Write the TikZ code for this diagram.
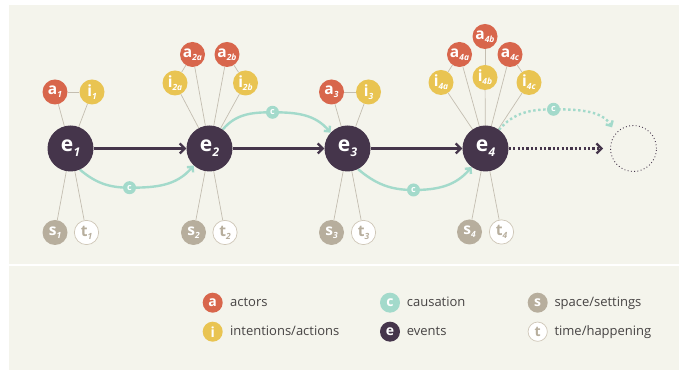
\documentclass[tikz,border=0pt]{standalone}
\usepackage{fontspec}
\setmainfont{Open Sans}
\usetikzlibrary{arrows.meta}

\definecolor{panelcream}{HTML}{F4F4EC}
\definecolor{actorred}{HTML}{D8664C}
\definecolor{intentyellow}{HTML}{E9C452}
\definecolor{causeteal}{HTML}{A3DACB}
\definecolor{eventdark}{HTML}{45354B}
\definecolor{spacetaupe}{HTML}{B7AE9D}
\definecolor{timeline}{HTML}{CFC7B8}
\definecolor{linkgray}{HTML}{C4BEB1}
\definecolor{keygray}{HTML}{464343}

\pgfdeclarelayer{back}
\pgfdeclarelayer{links}
\pgfsetlayers{back,links,main}

% labels with a small italic index
\newcommand{\evt}[1]{{\fontsize{21}{21}\selectfont\bfseries e\kern0.3pt\raisebox{-5pt}{\fontsize{12}{12}\selectfont\itshape #1}}}
\newcommand{\sml}[2]{{\fontsize{15.5}{15.5}\selectfont\bfseries #1\raisebox{-3pt}{\fontsize{8.5}{8.5}\selectfont\itshape #2}}}

\begin{document}
\begin{tikzpicture}[x=1pt,y=1pt]
	\tikzstyle{every node}+=[inner sep=0pt]
	\tikzstyle{eventnode}=[circle, fill=eventdark, minimum size=46pt, text=white]
	\tikzstyle{ghostnode}=[circle, draw=eventdark, line width=0.9pt, dash pattern=on 0.9pt off 2.4pt, minimum size=46pt]
	\tikzstyle{actornode}=[circle, fill=actorred, minimum size=25pt, text=white]
	\tikzstyle{intentnode}=[circle, fill=intentyellow, minimum size=25pt, text=white]
	\tikzstyle{spacenode}=[circle, fill=spacetaupe, minimum size=25pt, text=white]
	\tikzstyle{timenode}=[circle, fill=white, draw=timeline, line width=0.7pt, minimum size=24.3pt, text=spacetaupe]
	\tikzstyle{causenode}=[circle, fill=causeteal, minimum size=13pt, text=white, font=\fontsize{9}{9}\selectfont\bfseries]
	\tikzstyle{link}=[draw=linkgray, line width=0.7pt]
	\tikzstyle{flow}=[draw=eventdark, line width=2.2pt, -{Straight Barb[length=5pt,width=10pt]}]
	\tikzstyle{causearc}=[draw=causeteal, line width=2.4pt, -{Straight Barb[length=4pt,width=8pt]}]
	\tikzstyle{keydot}=[circle, minimum size=20pt, text=white, font=\fontsize{14}{14}\selectfont\bfseries]
	\tikzstyle{keytext}=[anchor=base west, text=keygray, font=\fontsize{13}{13}\selectfont]

	\useasboundingbox (0,0) rectangle (681,371);
	\begin{pgfonlayer}{back}
	\fill [white] (0,0) rectangle (681,371);
	\fill [panelcream] (9,1) rectangle (679,366);
	\fill [white] (9,105) rectangle (679,107);
	\end{pgfonlayer}

	% events
	\node [eventnode] (e1) at (70.5,222.5) {\evt{1}};
	\node [eventnode] (e2) at (209.5,222.5) {\evt{2}};
	\node [eventnode] (e3) at (347.5,222.5) {\evt{3}};
	\node [eventnode] (e4) at (485.5,222.5) {\evt{4}};
	\node [ghostnode] (e5) at (633.5,222.5) {};

	% e1
	\node [actornode] (a1) at (55,279) {\sml{a}{1}};
	\node [intentnode] (i1) at (92,279) {\sml{i}{1}};
	\node [spacenode] (s1) at (55,138.5) {\sml{s}{1}};
	\node [timenode] (t1) at (86.5,138.5) {\sml{t}{1}};

	% e2
	\node [actornode] (a2a) at (192.5,316.5) {\sml{a}{2a}};
	\node [actornode] (a2b) at (227,316.5) {\sml{a}{2b}};
	\node [intentnode] (i2a) at (175,288) {\sml{i}{2a}};
	\node [intentnode] (i2b) at (245.5,288) {\sml{i}{2b}};
	\node [spacenode] (s2) at (193.5,138.5) {\sml{s}{2}};
	\node [timenode] (t2) at (225,138.5) {\sml{t}{2}};

	% e3
	\node [actornode] (a3) at (331.5,279) {\sml{a}{3}};
	\node [intentnode] (i3) at (368.5,279) {\sml{i}{3}};
	\node [spacenode] (s3) at (331.5,138.5) {\sml{s}{3}};
	\node [timenode] (t3) at (363.5,138.5) {\sml{t}{3}};

	% e4
	\node [actornode] (a4a) at (459.5,316.5) {\sml{a}{4a}};
	\node [actornode] (a4b) at (485,334.5) {\sml{a}{4b}};
	\node [actornode] (a4c) at (510,316.5) {\sml{a}{4c}};
	\node [intentnode] (i4a) at (441,288.5) {\sml{i}{4a}};
	\node [intentnode] (i4b) at (485,293.5) {\sml{i}{4b}};
	\node [intentnode] (i4c) at (529,288.5) {\sml{i}{4c}};
	\node [spacenode] (s4) at (469.5,139) {\sml{s}{4}};
	\node [timenode] (t4) at (501.5,139) {\sml{t}{4}};

	% causation marks
	\node [causenode] (c12) at (129.5,183.3) {c};
	\node [causenode] (c23) at (272.5,258.7) {c};
	\node [causenode] (c34) at (413.5,181) {c};
	\node [causenode] (c45) at (553.5,261.7) {c};

	\begin{pgfonlayer}{links}
	\draw [link] (a1) -- (i1);
	\draw [link] (a1) -- (e1);
	\draw [link] (i1) -- (e1);
	\draw [link] (s1) -- (e1);
	\draw [link] (t1) -- (e1);
	\draw [link] (i2a) -- (a2a);
	\draw [link] (a2b) -- (i2b);
	\draw [link] (a2a) -- (e2);
	\draw [link] (a2b) -- (e2);
	\draw [link] (i2a) -- (e2);
	\draw [link] (i2b) -- (e2);
	\draw [link] (s2) -- (e2);
	\draw [link] (t2) -- (e2);
	\draw [link] (a3) -- (i3);
	\draw [link] (a3) -- (e3);
	\draw [link] (i3) -- (e3);
	\draw [link] (s3) -- (e3);
	\draw [link] (t3) -- (e3);
	\draw [link] (i4a) -- (a4a);
	\draw [link] (a4b) -- (i4b);
	\draw [link] (a4c) -- (i4c);
	\draw [link] (i4a) -- (e4);
	\draw [link] (a4a) -- (e4);
	\draw [link] (i4b) -- (e4);
	\draw [link] (a4c) -- (e4);
	\draw [link] (i4c) -- (e4);
	\draw [link] (s4) -- (e4);
	\draw [link] (t4) -- (e4);

	\draw [flow] (e1) -- (e2);
	\draw [flow] (e2) -- (e3);
	\draw [flow] (e3) -- (e4);
	\draw [flow, dash pattern=on 2.2pt off 2.2pt, shorten >=7pt] (e4) -- (e5);

	\draw [causearc] (e1.294) to[out=-40,in=180] (c12.center) to[out=0,in=-130] (e2.227);
	\draw [causearc] (e2.55) to[out=50,in=180] (c23.center) to[out=0,in=130] (e3.137);
	\draw [causearc] (e3.297) to[out=-40,in=180] (c34.center) to[out=0,in=-130] (e4.233);
	\draw [causearc, dash pattern=on 2.4pt off 2.6pt, shorten >=7pt] (e4.54) to[out=50,in=180] (c45.center) to[out=0,in=120] (e5.140);
	\end{pgfonlayer}

	% key
	\node [keydot, fill=actorred] (ka) at (212.7,68.3) {a};
	\node [keytext] (kat) at (230,64) {actors};
	\node [keydot, fill=intentyellow] (ki) at (212.7,39.3) {i};
	\node [keytext] (kit) at (230,35) {intentions/actions};
	\node [keydot, fill=causeteal] (kc) at (390,68.3) {c};
	\node [keytext] (kct) at (406.7,64) {causation};
	\node [keydot, fill=eventdark] (ke) at (390,39.3) {e};
	\node [keytext] (ket) at (406.7,35) {events};
	\node [keydot, fill=spacetaupe] (ks) at (537.7,68.3) {s};
	\node [keytext] (kst) at (554.3,64) {space/settings};
	\node [keydot, fill=white, draw=timeline, line width=0.7pt, text=spacetaupe, minimum size=19.3pt] (kt) at (537.7,39.3) {t};
	\node [keytext] (ktt) at (554.3,35) {time/happening};
\end{tikzpicture}
\end{document}
